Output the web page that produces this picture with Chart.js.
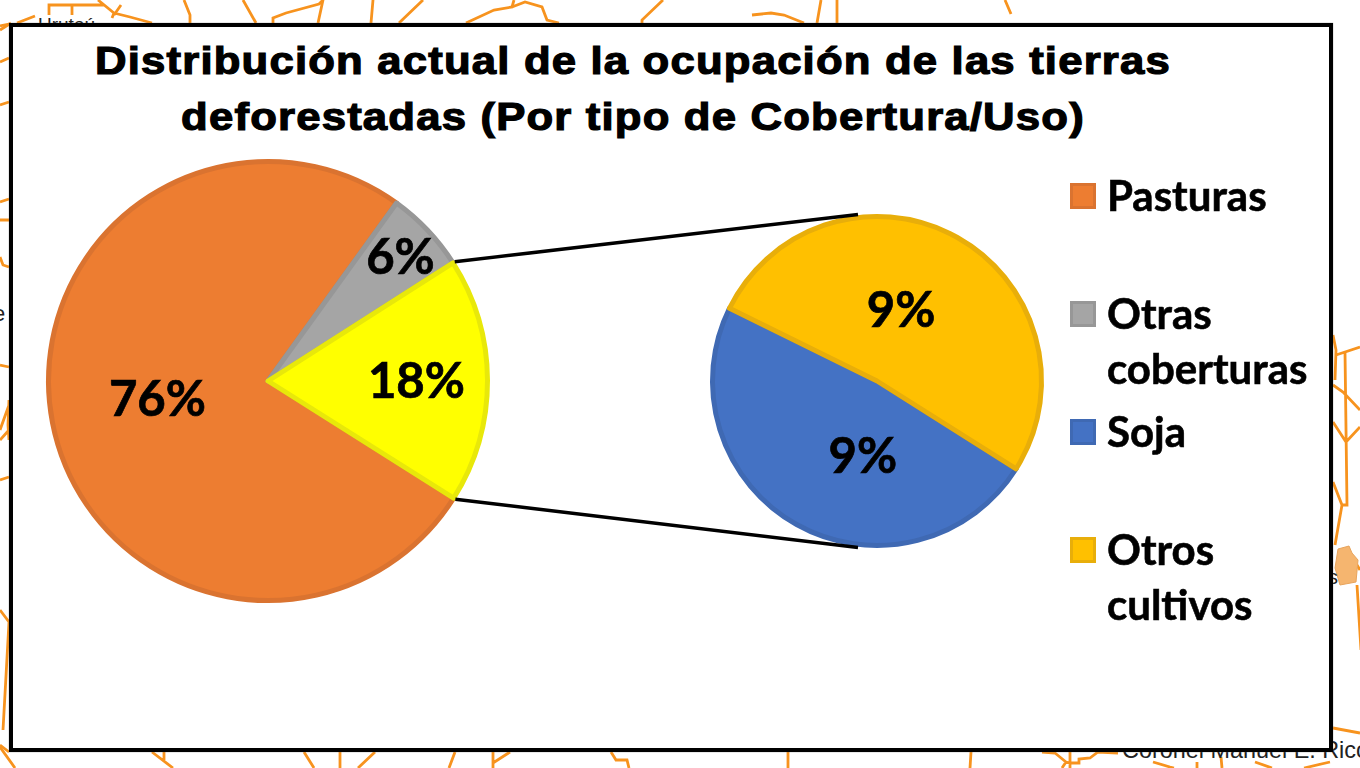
<!DOCTYPE html>
<html lang="es">
<head>
<meta charset="utf-8">
<title>Distribución actual de la ocupación de las tierras deforestadas</title>
<script src="https://cdn.jsdelivr.net/npm/chart.js@4"></script>
<style>
    html, body { margin: 0; padding: 0; background: #fff; overflow: hidden; }
    #page { position: relative; width: 1360px; height: 768px; overflow: hidden; }
    #backdrop, #connectors { position: absolute; left: 0; top: 0; }
    .place { position: absolute; color: #222; font-family: "Liberation Sans", sans-serif; white-space: nowrap; }
    #frame {
        position: absolute; left: 9px; top: 23px; width: 1324px; height: 729px;
        box-sizing: border-box; border: 4px solid #000; background: #fff;
        box-shadow: 0 0 1px #777;
    }
    #title {
        position: absolute; left: 33px; top: 33px; width: 1200px; text-align: center;
        font: bold 39px/56px "Liberation Sans", Arial, sans-serif; letter-spacing: 1.05px; color: #000;
        -webkit-text-stroke: 1.2px #000; transform: scaleX(1.12);
    }
    canvas { position: absolute; }
    #main-pie { left: 28px; top: 141px; }
    #detail-pie { left: 697px; top: 201px; }
    #legend { position: absolute; left: 1070px; top: 168px; margin: 0; padding: 0; list-style: none; }
    #legend li {
        position: relative; height: 118px; padding-left: 37px;
        font: bold 42px/55px Lato, sans-serif; color: #000; white-space: nowrap;
        -webkit-text-stroke: 0.6px #000;
    }
    #legend i { position: absolute; left: 0; top: 15px; width: 20px; height: 20px; border: 3px solid; }
</style>
</head>
<body>
<div id="page">
    <!-- map behind the chart box -->
    <svg id="backdrop" width="1360" height="768" fill="none" stroke="#F7931E" stroke-width="2.8">
        <path d="M49 15V5H104M72 5V15M98 0L114 13L130 17L152 23M114 13L112 18M121 5L114 15M35 16L17 23M11 23L0 30"/>
        <path d="M184 0L190 15V23M243 0L256 23M273 23V18L286 13L319 4L323 0L318 23M373 0L371 23M423 0L399 23"/>
        <path d="M466 23L494 10L512 7L514 0M512 7L525 2L542 7L547 20L559 23M663 0L642 20V23"/>
        <path d="M752 15L771 13L784 15L804 23M821 0L817 23M837 0V23M1005 0L1011 14"/>
        <path d="M0 747L15 768M152 752L173 768M164 752V760M304 752L314 768M340 752V768M375 752L358 768M455 752L449 768M493 752V768M510 752L493 763M611 752L616 760H627L629 768"/>
        <path d="M788 752V768M971 752L970 768M1042 752L1055 753L1066 762L1070 763H1079V759L1090 758L1098 752L1118 753M1070 752V768M1066 762L1062 768"/>
        <path d="M1153 762L1170 767L1174 768M1197 762V768M1221 757L1222 768M1255 762L1272 768M1330 762L1304 768M1333 728L1360 733"/>
        <path d="M1333 335L1336 350L1335 380M1336 355L1360 347M1345 352L1347 505H1342L1333 482M1342 505L1335 545M1333 385L1343 392L1360 410M1333 422L1346 442L1360 427M1357 585L1361 650M1357 565L1360 570"/>
        <path d="M0 26L9 24M0 62L9 58M0 105L9 102M0 202L9 199M0 220H9M0 257L3 265L9 267M0 365L9 367M9 400L8 425L9 440M0 430L9 405M0 440L9 430M0 480L9 477M0 610L9 622L3 730M0 745L9 752"/>
        <path d="M1338 549L1349 546L1352 553L1358 560L1356 582L1340 585L1335 568Z" fill="#F5B56F" stroke="#E8A45C" stroke-width="1"/>
    </svg>
    <div class="place" style="left:38px;top:14px;font-size:19px">Urutaú</div>
    <div class="place" style="left:-7px;top:301px;font-size:22px">e</div>
    <div class="place" style="left:1328px;top:566px;font-size:20px">s</div>
    <div class="place" style="left:1122px;top:737px;font-size:23.4px">Coronel Manuel E. Rico</div>

    <div id="frame"></div>
    <div id="title">Distribución actual de la ocupación de las tierras<br>deforestadas (Por tipo de Cobertura/Uso)</div>

    <canvas id="main-pie" width="480" height="480"></canvas>
    <canvas id="detail-pie" width="360" height="360"></canvas>
    <svg id="connectors" width="1360" height="768" stroke="#000" stroke-width="3.5"></svg>
    <ul id="legend"></ul>
</div>

<script>
// --- Chart data ---
const mainCategories = ['Pasturas', 'Otras coberturas', 'Cultivos'];
const mainValues = [76, 6, 18];
const mainColors = ['#ED7D31', '#A5A5A5', '#FFFF00'];
const mainBorders = ['#DA7330', '#979797', '#E8E80A'];

// the two halves are not quite equal in the picture, both still round to 9%
const detailCategories = ['Soja', 'Otros cultivos'];
const detailValues = [8.7, 9.3];
const detailColors = ['#4472C4', '#FFC000'];
const detailBorders = ['#3F69B3', '#E8AE0A'];

// legend rows, wrapped the way the picture wraps them
const legendRows = [
    { lines: ['Pasturas'], color: mainColors[0], border: mainBorders[0] },
    { lines: ['Otras', 'coberturas'], color: mainColors[1], border: mainBorders[1] },
    { lines: ['Soja'], color: detailColors[0], border: detailBorders[0] },
    { lines: ['Otros', 'cultivos'], color: detailColors[1], border: detailBorders[1] }
];

// --- Percent labels inside the slices ---
const sliceLabels = {
    id: 'sliceLabels',
    afterDatasetsDraw(chart, args, opts) {
        const ctx = chart.ctx;
        const values = chart.data.datasets[0].data;
        ctx.save();
        ctx.font = 'bold 49px Lato, sans-serif';
        ctx.fillStyle = '#000';
        ctx.strokeStyle = '#000';
        ctx.lineWidth = 0.7;
        ctx.textAlign = 'center';
        ctx.textBaseline = 'middle';
        chart.getDatasetMeta(0).data.forEach((arc, i) => {
            const p = arc.getProps(['x', 'y', 'startAngle', 'endAngle', 'outerRadius'], true);
            const angle = (p.startAngle + p.endAngle) / 2 + opts.nudge[i] * Math.PI / 180;
            const r = p.outerRadius * opts.reach[i];
            const text = Math.round(values[i]) + '%';
            const x = p.x + r * Math.cos(angle), y = p.y + r * Math.sin(angle) + 2;
            ctx.fillText(text, x, y);
            ctx.strokeText(text, x, y);
        });
        ctx.restore();
    }
};

function makePie(id, labels, values, colors, borders, radius, reach, nudge) {
    return new Chart(document.getElementById(id), {
        type: 'pie',
        data: {
            labels: labels,
            datasets: [{
                data: values,
                backgroundColor: colors,
                borderColor: borders,
                borderWidth: 5,
                borderJoinStyle: 'round',
                hoverOffset: 0
            }]
        },
        options: {
            responsive: false,
            animation: false,
            rotation: 122.25,
            radius: radius,
            events: [],
            plugins: {
                legend: { display: false },
                tooltip: { enabled: false },
                sliceLabels: { reach: reach, nudge: nudge }
            }
        },
        plugins: [sliceLabels]
    });
}

const mainPie = makePie('main-pie', mainCategories, mainValues, mainColors, mainBorders, 219.5, [0.51, 0.83, 0.676], [2, 0, 0]);
const detailPie = makePie('detail-pie', detailCategories, detailValues, detailColors, detailBorders, 164.5, [0.46, 0.46], [-18.4, -10.75]);

// --- Lines from the yellow slice to the detail pie ---
function addConnector(angle, toTop) {
    const arc = mainPie.getDatasetMeta(0).data[2];
    const other = detailPie.getDatasetMeta(0).data[0];
    const mainBox = mainPie.canvas, detailBox = detailPie.canvas;
    const reach = arc.outerRadius + 2;
    const line = document.createElementNS('http://www.w3.org/2000/svg', 'line');
    line.setAttribute('x1', mainBox.offsetLeft + arc.x + reach * Math.cos(angle));
    line.setAttribute('y1', mainBox.offsetTop + arc.y + reach * Math.sin(angle));
    line.setAttribute('x2', detailBox.offsetLeft + other.x - 19);
    line.setAttribute('y2', detailBox.offsetTop + other.y + (toTop ? -1 : 1) * (other.outerRadius + 2));
    document.getElementById('connectors').appendChild(line);
}
const yellow = mainPie.getDatasetMeta(0).data[2];
addConnector(yellow.startAngle, true);
addConnector(yellow.endAngle, false);

// --- Legend ---
const legend = document.getElementById('legend');
legendRows.forEach(row => {
    const li = document.createElement('li');
    const swatch = document.createElement('i');
    swatch.style.background = row.color;
    swatch.style.borderColor = row.border;
    li.appendChild(swatch);
    li.insertAdjacentHTML('beforeend', row.lines.join('<br>'));
    legend.appendChild(li);
});
</script>
</body>
</html>
